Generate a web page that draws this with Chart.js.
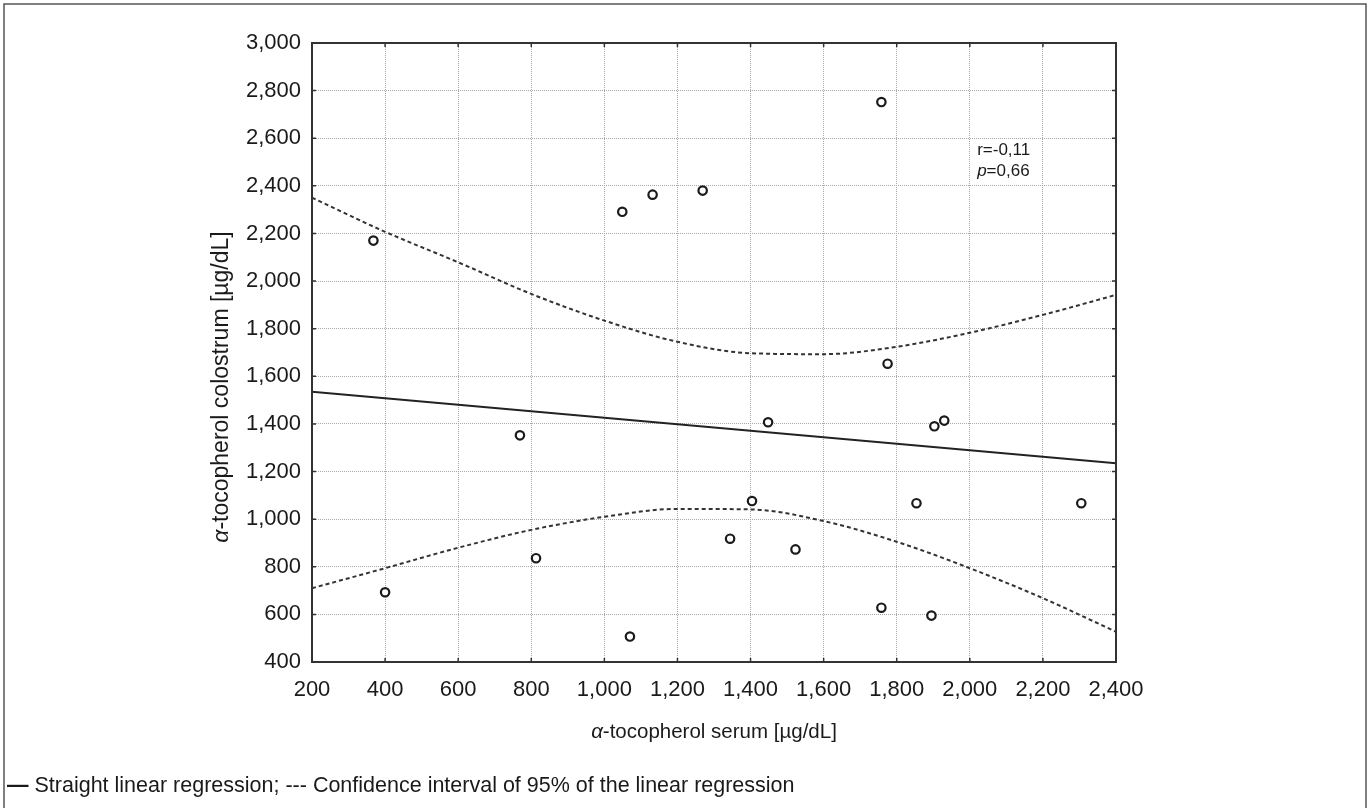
<!DOCTYPE html>
<html>
<head>
<meta charset="utf-8">
<script src="https://cdn.jsdelivr.net/npm/chart.js@4.4.1/dist/chart.umd.min.js"></script>
<style>
  html, body { margin: 0; padding: 0; background: #ffffff; }
  canvas { display: block; }
</style>
</head>
<body>
<canvas id="c" width="1371" height="808"></canvas>
<script>
// ---- data ----
const serumX = [368, 400, 769, 813, 1049, 1070, 1132, 1269, 1344, 1404, 1448, 1523, 1758, 1758, 1775, 1854, 1895, 1903, 1930, 2305];
const colostrumY = [2170, 693, 1352, 836, 2291, 507, 2363, 2380, 918, 1076, 1407, 873, 2752, 628, 1653, 1067, 595, 1390, 1414, 1067];
const fitX = [200, 2400];
const fitY = [1535, 1235];
const ciX = [200, 400, 600, 800, 1000, 1200, 1400, 1600, 1800, 2000, 2200, 2400];
const ciUpper = [2350, 2207, 2079, 1946, 1834, 1745, 1697, 1693, 1724, 1783, 1858, 1942];
const ciLower = [710, 794, 880, 955, 1010, 1043, 1041, 992, 905, 794, 668, 527];
const xRange = [200, 2400];
const yRange = [400, 3000];
const tickStep = 200;
const xTitleItalic = "α";
const xTitleRest = "-tocopherol serum [µg/dL]";
const yTitleItalic = "α";
const yTitleRest = "-tocopherol colostrum [µg/dL]";
const statR = "r=-0,11";
const statPItalic = "p";
const statPRest = "=0,66";
const statAnchor = { x: 2020, yR: 2550, yP: 2460 };
const footerMark = "—";
const footerText = " Straight linear regression; --- Confidence interval of 95% of the linear regression";

const FONT = '"Liberation Sans", Arial, Helvetica, sans-serif';
const INK = '#1a1a1a';

const pts = serumX.map((v, i) => ({ x: v, y: colostrumY[i] }));
const fit = fitX.map((v, i) => ({ x: v, y: fitY[i] }));
const up = ciX.map((v, i) => ({ x: v, y: ciUpper[i] }));
const lo = ciX.map((v, i) => ({ x: v, y: ciLower[i] }));

function mixed(ctx, parts, x, y, align) {
  let total = 0;
  const widths = parts.map(p => {
    ctx.font = (p.italic ? 'italic ' : '') + (p.bold ? 'bold ' : '') + p.size + 'px ' + FONT;
    const w = ctx.measureText(p.text).width; total += w; return w;
  });
  let cx = align === 'center' ? x - total / 2 : x;
  parts.forEach((p, i) => {
    ctx.font = (p.italic ? 'italic ' : '') + (p.bold ? 'bold ' : '') + p.size + 'px ' + FONT;
    ctx.textAlign = 'left';
    ctx.fillText(p.text, cx, y);
    cx += widths[i];
  });
}

const decor = {
  id: 'decor',
  afterDraw(chart) {
    const { ctx, chartArea: a, scales } = chart;
    const sx = scales.x, sy = scales.y;
    ctx.save();
    // outer figure frame
    ctx.strokeStyle = '#555';
    ctx.lineWidth = 1.5;
    ctx.beginPath();
    ctx.moveTo(4, 830); ctx.lineTo(4, 4); ctx.lineTo(1366, 4); ctx.lineTo(1366, 830);
    ctx.stroke();
    // plot box
    ctx.strokeStyle = '#333';
    ctx.lineWidth = 2;
    ctx.strokeRect(a.left, a.top, a.right - a.left, a.bottom - a.top);
    // inward ticks
    ctx.lineWidth = 1.5;
    ctx.beginPath();
    sx.ticks.forEach(t => {
      const p = sx.getPixelForValue(t.value);
      ctx.moveTo(p, a.top); ctx.lineTo(p, a.top + 4);
      ctx.moveTo(p, a.bottom); ctx.lineTo(p, a.bottom - 4);
    });
    sy.ticks.forEach(t => {
      const p = sy.getPixelForValue(t.value);
      ctx.moveTo(a.left, p); ctx.lineTo(a.left + 4, p);
      ctx.moveTo(a.right, p); ctx.lineTo(a.right - 4, p);
    });
    ctx.stroke();

    ctx.fillStyle = INK;
    ctx.textBaseline = 'middle';
    // x title
    mixed(ctx, [{ text: xTitleItalic, italic: true, size: 20.5 }, { text: xTitleRest, size: 20.5 }],
      (a.left + a.right) / 2, a.bottom + 70, 'center');
    // y title (rotated)
    ctx.save();
    ctx.translate(a.left - 90, a.top + 344);
    ctx.rotate(-Math.PI / 2);
    mixed(ctx, [{ text: yTitleItalic, italic: true, size: 23 }, { text: yTitleRest, size: 23 }], 0, 0, 'center');
    ctx.restore();
    // stats annotation
    const ax = sx.getPixelForValue(statAnchor.x);
    mixed(ctx, [{ text: statR, size: 17 }], ax, sy.getPixelForValue(statAnchor.yR), 'left');
    mixed(ctx, [{ text: statPItalic, italic: true, size: 17 }, { text: statPRest, size: 17 }], ax, sy.getPixelForValue(statAnchor.yP), 'left');
    // footer note
    mixed(ctx, [{ text: footerMark, bold: true, size: 21.5 }, { text: footerText, size: 21.5 }], 7, a.bottom + 124, 'left');
    ctx.restore();
  }
};

const axisCommon = {
  type: 'linear',
  border: { display: false, dash: [1, 1] },
  grid: { color: '#a8a8a8', lineWidth: 1, drawTicks: false },
  ticks: {
    stepSize: tickStep,
    color: INK,
    font: { family: FONT, size: 22 },
    callback: v => Number(v).toLocaleString('en-US')
  }
};

new Chart(document.getElementById('c'), {
  type: 'scatter',
  data: {
    datasets: [
      { label: 'upper', data: up, showLine: true, borderColor: '#333', borderWidth: 2, borderDash: [4, 3],
        pointRadius: 0, cubicInterpolationMode: 'monotone', fill: false },
      { label: 'lower', data: lo, showLine: true, borderColor: '#333', borderWidth: 2, borderDash: [4, 3],
        pointRadius: 0, cubicInterpolationMode: 'monotone', fill: false },
      { label: 'fit', data: fit, showLine: true, borderColor: '#222', borderWidth: 2, pointRadius: 0, fill: false },
      { label: 'obs', data: pts, showLine: false, pointStyle: 'circle', pointRadius: 4.2,
        borderColor: '#1a1a1a', borderWidth: 2.2, backgroundColor: '#ffffff' }
    ]
  },
  options: {
    responsive: false,
    animation: false,
    devicePixelRatio: 1,
    locale: 'en-US',
    layout: { padding: { left: 0, top: 43, right: 255, bottom: 0 } },
    plugins: { legend: { display: false }, tooltip: { enabled: false } },
    scales: {
      x: Object.assign({}, axisCommon, {
        min: xRange[0], max: xRange[1],
        ticks: Object.assign({}, axisCommon.ticks, { padding: 15, maxRotation: 0, autoSkip: false }),
        afterFit: s => { s.height = 146; }
      }),
      y: Object.assign({}, axisCommon, {
        min: yRange[0], max: yRange[1],
        ticks: Object.assign({}, axisCommon.ticks, { padding: 11 }),
        afterFit: s => { s.width = 312; }
      })
    }
  },
  plugins: [decor]
});
</script>
</body>
</html>
